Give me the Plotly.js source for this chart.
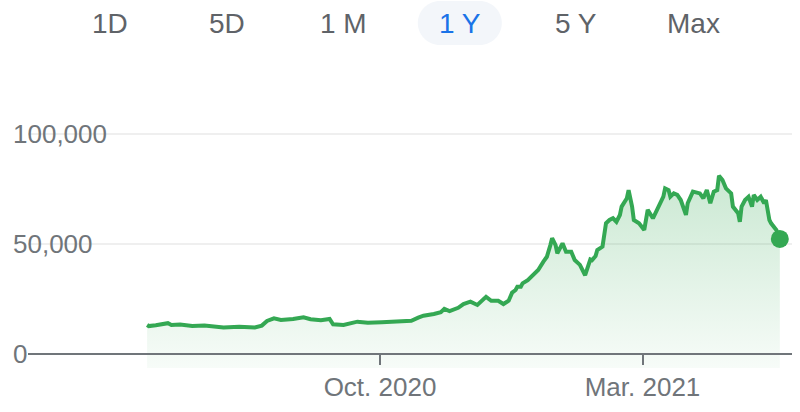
<!DOCTYPE html>
<html><head><meta charset="utf-8">
<script src="https://cdn.plot.ly/plotly-3.0.1.min.js"></script>
<style>html,body{margin:0;padding:0;background:#fff}#chart{width:800px;height:412px}</style>
</head><body><div id="chart"></div>
<script>
const dates = [
 '2020-05-20','2020-05-21','2020-05-25','2020-05-28','2020-06-01','2020-06-03','2020-06-08','2020-06-15',
 '2020-06-22','2020-07-03','2020-07-12','2020-07-21','2020-07-25','2020-07-28',
 '2020-08-01','2020-08-05','2020-08-12','2020-08-18','2020-08-22','2020-08-28','2020-09-02','2020-09-04',
 '2020-09-10','2020-09-18','2020-09-24','2020-10-02','2020-10-07','2020-10-09','2020-10-13','2020-10-19',
 '2020-10-23','2020-10-26','2020-11-01','2020-11-05','2020-11-07','2020-11-10','2020-11-15','2020-11-18',
 '2020-11-22','2020-11-26','2020-12-01','2020-12-04','2020-12-08','2020-12-11','2020-12-14','2020-12-16',
 '2020-12-18','2020-12-19','2020-12-21','2020-12-22','2020-12-25','2020-12-28','2020-12-31','2021-01-03',
 '2021-01-05','2021-01-07','2021-01-08','2021-01-10','2021-01-11','2021-01-14','2021-01-16','2021-01-19',
 '2021-01-21','2021-01-24','2021-01-27','2021-01-30','2021-01-31','2021-02-02','2021-02-03','2021-02-06',
 '2021-02-07','2021-02-08','2021-02-10','2021-02-12','2021-02-14','2021-02-16','2021-02-17','2021-02-20',
 '2021-02-21','2021-02-23','2021-02-24','2021-02-27','2021-03-02','2021-03-03','2021-03-04','2021-03-07',
 '2021-03-10','2021-03-13','2021-03-14','2021-03-16','2021-03-17','2021-03-19','2021-03-21','2021-03-23',
 '2021-03-26','2021-03-27','2021-03-30','2021-04-03','2021-04-05','2021-04-07','2021-04-09','2021-04-11',
 '2021-04-13','2021-04-14','2021-04-16','2021-04-18','2021-04-21','2021-04-22','2021-04-25','2021-04-26',
 '2021-04-27','2021-04-29','2021-05-01','2021-05-03','2021-05-04','2021-05-06','2021-05-08','2021-05-10',
 '2021-05-11','2021-05-13','2021-05-14','2021-05-17','2021-05-19'
];
const prices = [
 13200,12700,13100,13300,14000,13200,13400,12700,
 12900,12000,12400,12100,12900,15000,
 16200,15500,15900,16700,15800,15300,15900,13500,
 13200,14700,14200,14400,14600,15100,15100,15100,
 16500,17400,18200,19000,20500,19500,21000,22700,
 23800,22300,26000,24200,24200,22700,24200,27900,
 29100,30600,30600,32100,33600,36200,38200,42000,
 44200,49500,52600,49500,45800,50300,46500,46500,
 42700,40500,35800,43000,42700,44500,47300,48800,
 53300,59400,60900,61700,60100,63200,67000,70800,
 74500,67000,60900,59400,56400,62400,65500,61700,
 66200,71500,75300,74500,71500,73000,72300,70000,
 63200,68500,73800,73000,70800,74500,68500,73800,
 74500,81000,79100,75300,73000,67000,64000,60100,
 67000,70000,71500,67000,72300,70000,71500,68500,
 70000,60900,59400,56400,52300
];
const rangeButtons = ['1D','5D','1 M','1 Y','5 Y','Max'];
const activeButton = '1 Y';
const yTickVals = [0, 50000, 100000];
const yTickText = ['0', '50,000', '100,000'];
const xTickVals = ['2020-10-01', '2021-03-01'];
const xTickText = ['Oct. 2020', 'Mar. 2021'];

// geometry
const W = 800, H = 412;
const ML = 12, MR = 8, MT = 118, MB = 44;
const PW = W - ML - MR, PH = H - MT - MB;
const PX_PER_K = 2.2;
const zeroPx = 354;
const Y_MIN = -((H - MB) - zeroPx) / PX_PER_K * 1000;
const Y_MAX = (zeroPx - MT) / PX_PER_K * 1000;
const px2fx = p => (p - ML) / PW;
const px2fy = p => ((H - MB) - p) / PH;

const GREEN = '#34a853';
const FONT = '"Liberation Sans", Arial, sans-serif';
const lastIdx = dates.length - 1;

const traces = [
  {
    x: [dates[0], dates[lastIdx]], y: [Y_MIN, Y_MIN],
    mode: 'lines', line: {width: 0, color: 'rgba(0,0,0,0)'},
    hoverinfo: 'skip', showlegend: false
  },
  {
    x: dates, y: prices, mode: 'lines',
    line: {color: GREEN, width: 4, shape: 'linear'},
    fill: 'tonexty',
    fillgradient: {
      type: 'vertical',
      start: Y_MIN, stop: Math.max(...prices),
      colorscale: [[0, 'rgba(52,168,83,0.04)'], [1, 'rgba(52,168,83,0.26)']]
    },
    showlegend: false
  },
  {
    x: [dates[lastIdx]], y: [prices[lastIdx]], mode: 'markers',
    marker: {color: GREEN, size: 18, line: {width: 0}},
    showlegend: false
  }
];

const annotations = rangeButtons.map((b, i) => ({
  xref: 'paper', yref: 'paper',
  x: px2fx(110 + i * 116.6), y: px2fy(23),
  xanchor: 'center', yanchor: 'middle',
  text: b, showarrow: false,
  font: {family: FONT, size: 28, color: b === activeButton ? '#1a73e8' : '#5f6368'}
}));

const activeI = rangeButtons.indexOf(activeButton);
const shapes = [{
  type: 'path', layer: 'below',
  xref: 'paper', yref: 'paper',
  xsizemode: 'pixel', ysizemode: 'pixel',
  xanchor: px2fx(110 + activeI * 116.6), yanchor: px2fy(23),
  path: 'M -20,-22 L 20,-22 C 32,-22 42,-12 42,0 C 42,12 32,22 20,22 L -20,22 C -32,22 -42,12 -42,0 C -42,-12 -32,-22 -20,-22 Z',
  fillcolor: '#f3f6fa', line: {width: 0}
}];

const layout = {
  width: W, height: H,
  margin: {l: ML, r: MR, t: MT, b: MB, pad: 0},
  paper_bgcolor: '#fff', plot_bgcolor: 'rgba(0,0,0,0)',
  font: {family: FONT, color: '#70757a'},
  showlegend: false,
  xaxis: {
    type: 'date',
    domain: [px2fx(28), px2fx(792)],
    range: ['2020-03-12 12:00', '2021-05-26'],
    anchor: 'free', position: px2fy(zeroPx),
    showgrid: false, zeroline: false,
    showline: true, linecolor: '#70757a', linewidth: 2,
    ticks: 'outside', ticklen: 10, tickwidth: 2, tickcolor: '#70757a',
    tickvals: xTickVals, ticktext: xTickText,
    tickfont: {family: FONT, size: 26, color: '#70757a'}
  },
  yaxis: {
    range: [Y_MIN, Y_MAX],
    anchor: 'free', position: 0, side: 'right',
    showgrid: true, gridcolor: '#efefef', gridwidth: 1.5,
    zeroline: false, showline: false, ticks: '',
    tickvals: yTickVals, ticktext: yTickText,
    tickfont: {family: FONT, size: 26, color: '#70757a'}
  },
  annotations: annotations,
  shapes: shapes
};

Plotly.newPlot('chart', traces, layout, {staticPlot: true, displayModeBar: false});
</script>
</body></html>
